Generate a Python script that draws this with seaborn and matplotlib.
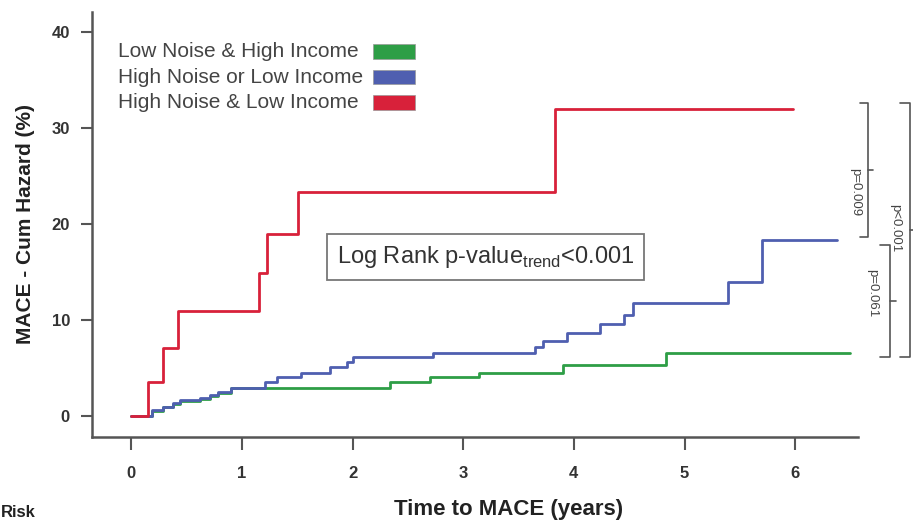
import pandas as pd
import numpy as np
import seaborn as sns
import matplotlib.pyplot as plt
import matplotlib.patches as mpatches

# cumulative hazard (%) step curves
green_t = [0, 0.19, 0.29, 0.38, 0.44, 0.62, 0.71, 0.78, 0.9, 2.34, 2.7, 3.14, 3.9, 4.83, 6.5]
green_v = [0, 0.5, 0.9, 1.2, 1.5, 1.8, 2.1, 2.4, 2.9, 3.5, 4.0, 4.5, 5.3, 6.6, 6.6]

blue_t = [0, 0.19, 0.29, 0.38, 0.44, 0.62, 0.71, 0.78, 0.9, 1.21, 1.32, 1.53, 1.8, 1.95, 2.0,
          2.73, 3.65, 3.72, 3.94, 4.24, 4.45, 4.53, 5.39, 5.7, 6.38]
blue_v = [0, 0.6, 0.9, 1.3, 1.6, 1.9, 2.2, 2.5, 2.9, 3.5, 4.0, 4.5, 5.1, 5.6, 6.1,
          6.6, 7.2, 7.8, 8.6, 9.6, 10.5, 11.8, 14.0, 18.3, 18.3]

red_t = [0, 0.15, 0.29, 0.42, 1.15, 1.23, 1.51, 3.83, 5.98]
red_v = [0, 3.5, 7.1, 10.9, 14.9, 19.0, 23.3, 32.0, 32.0]

groups = ["Low Noise & High Income", "High Noise or Low Income", "High Noise & Low Income"]
colors = ["#2e9e46", "#4f5fb0", "#d8213a"]
pvals = ["p=0.009", "p=0.061", "p<0.001"]
xticks = [0, 1, 2, 3, 4, 5, 6]
yticks = [0, 10, 20, 30, 40]

df = pd.concat([
    pd.DataFrame({"t": green_t, "h": green_v, "group": groups[0]}),
    pd.DataFrame({"t": blue_t, "h": blue_v, "group": groups[1]}),
    pd.DataFrame({"t": red_t, "h": red_v, "group": groups[2]}),
])

sns.set_style("ticks")
plt.rcParams["font.family"] = ["Liberation Sans", "DejaVu Sans"]

fig = plt.figure(figsize=(9.13, 5.22), dpi=100)
ax = fig.add_axes([0.101, 0.163, 0.839, 0.814])

sns.lineplot(data=df, x="t", y="h", hue="group", palette=dict(zip(groups, colors)),
             estimator=None, sort=False, drawstyle="steps-post", linewidth=2.0,
             legend=False, ax=ax)

ax.set_xlim(-0.353, 6.57)
ax.set_ylim(-2.2, 42.1)
ax.set_xticks(xticks)
ax.set_yticks(yticks)
for lab in ax.get_xticklabels() + ax.get_yticklabels():
    lab.set_fontweight("bold")
    lab.set_color("#333333")
ax.tick_params(axis="x", length=9, width=1.5, color="#555555", pad=12, labelsize=12)
ax.tick_params(axis="y", length=8, width=1.5, color="#555555", pad=8, labelsize=12)
sns.despine(ax=ax)
for s in ["left", "bottom"]:
    ax.spines[s].set_linewidth(1.8)
    ax.spines[s].set_color("#555555")

ax.set_xlabel("Time to MACE (years)", fontsize=16, fontweight="bold", color="#222222", labelpad=13)
ax.xaxis.set_label_coords(0.544, -0.145)
ax.set_ylabel("MACE - Cum Hazard (%)", fontsize=15, fontweight="bold", color="#222222", labelpad=12)

# legend: labels left, colour swatch on the right
for i, (g, c) in enumerate(zip(groups, colors)):
    yy = 0.907 - i * 0.06
    ax.text(0.034, yy, g, transform=ax.transAxes, fontsize=15, color="#444444",
            ha="left", va="center")
    ax.add_patch(mpatches.Rectangle((0.367, yy - 0.017), 0.055, 0.034, transform=ax.transAxes,
                                    facecolor=c, edgecolor="#999999", linewidth=0.5))

ax.text(3.2, 16.6, "Log Rank p-value$_{\\mathregular{trend}}$<0.001", fontsize=17,
        color="#333333", ha="center", va="center",
        bbox=dict(boxstyle="square,pad=0.42", facecolor="white", edgecolor="#777777", linewidth=1.3))

# significance brackets outside the plot
ends = [red_v[-1], blue_v[-1], green_v[-1]]


def bracket(x, x_end, y0, y1, label, tx, ty):
    kw = dict(color="#555555", linewidth=1.2, clip_on=False)
    ax.plot([x_end, x, x, x_end], [y0, y0, y1, y1], **kw)
    ym = (y0 + y1) / 2
    ax.plot([x, x + 0.05], [ym, ym], **kw)
    ax.text(tx, ty, label, rotation=-90, fontsize=9.5, color="#444444",
            ha="center", va="center", clip_on=False)


bracket(6.655, 6.59, ends[0] + 0.6, ends[1] + 0.3, pvals[0], 6.545, 23.3)
bracket(6.86, 6.77, ends[1] - 0.5, ends[2] - 0.5, pvals[1], 6.7, 12.8)
bracket(7.04, 6.95, ends[0] + 0.6, ends[2] - 0.5, pvals[2], 6.9, 19.6)

fig.text(0.001, 0.004, "Risk", fontsize=12, fontweight="bold", color="#222222",
         ha="left", va="bottom")

fig.savefig("out.png", dpi=100)
